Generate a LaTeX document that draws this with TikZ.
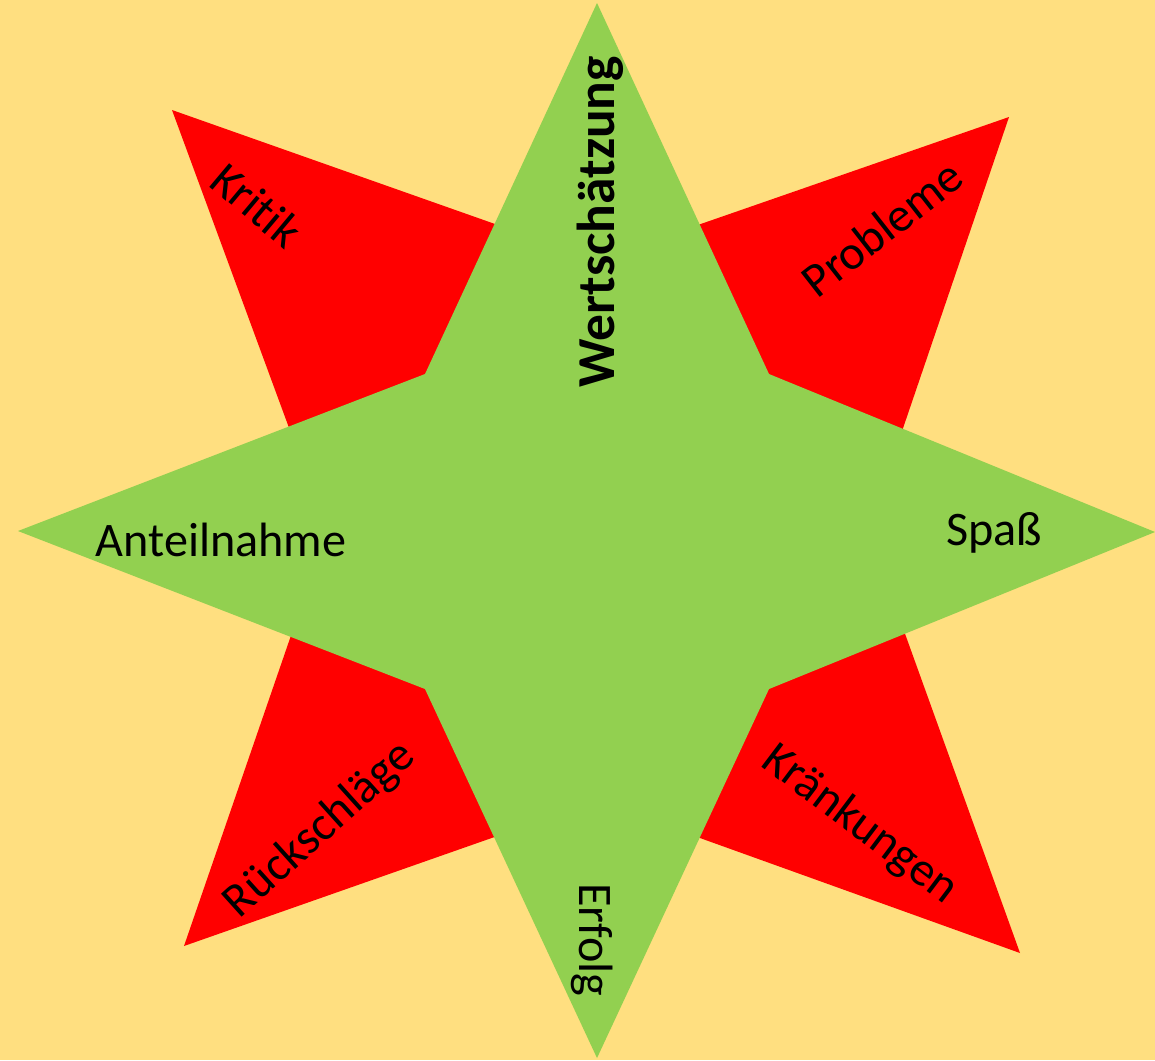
\documentclass[tikz,border=0pt]{standalone}
\usepackage{fontspec}
\setmainfont{Carlito}[Ligatures=NoCommon]
\definecolor{bgyellow}{RGB}{255,223,128}
\definecolor{stargreen}{RGB}{146,208,80}
\definecolor{starred}{RGB}{255,0,0}

\begin{document}
\begin{tikzpicture}[x=0.01cm,y=-0.01cm,
  lbl/.style={font=\fontsize{13.7}{16}\selectfont,inner sep=0pt}]
% Hintergrund
\fill[bgyellow] (0,0) rectangle (1155,1060);
\useasboundingbox (0,0) rectangle (1155,1060);
% roter Stern (um 45 Grad gedreht, hinten)
\fill[starred] (172,110) -- (597,260) -- (1009,117) -- (868,531)
  -- (1020,953) -- (597,801) -- (184,946) -- (327,531) -- cycle;
% gruener Stern (vorne)
\fill[stargreen] (597,3) -- (769,374) -- (1155,532) -- (769,689)
  -- (597,1058) -- (425,689) -- (18,531) -- (425,374) -- cycle;
% Beschriftungen gruen
\node[lbl,font=\fontsize{15.2}{18}\selectfont\bfseries,rotate=90] (wert) at (600,222) {Wertschätzung};
\node[lbl] (anteil) at (221,540) {Anteilnahme};
\node[lbl] (spass) at (994,533) {Spaß};
\node[lbl,rotate=-90] (erfolg) at (592,940) {Erfolg};
% Beschriftungen rot
\node[lbl,rotate=-40] (kritik) at (257,205) {Kritik};
\node[lbl,rotate=38] (probleme) at (882,228) {Probleme};
\node[lbl,rotate=42] (rueck) at (320,830) {Rückschläge};
\node[lbl,rotate=-37] (kraenk) at (860,825) {Kränkungen};
\end{tikzpicture}
\end{document}
